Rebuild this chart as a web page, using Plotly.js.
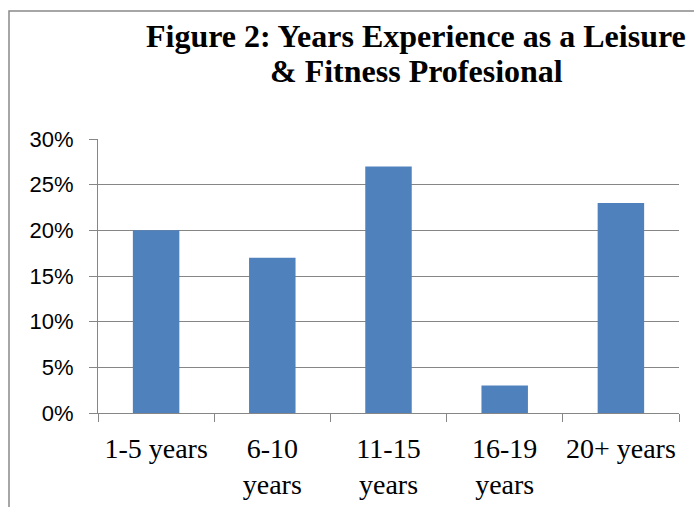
<!DOCTYPE html>
<html>
<head>
<meta charset="utf-8">
<script src="https://cdn.plot.ly/plotly-3.0.1.min.js"></script>
<style>
html,body{margin:0;padding:0;background:#fff;}
#chart{width:694px;height:507px;}
</style>
</head>
<body>
<div id="chart"></div>
<script>
const categories = ["1-5 years", "6-10 years", "11-15 years", "16-19 years", "20+ years"];
const tickLabels = ["1-5 years", "6-10<br>years", "11-15<br>years", "16-19<br>years", "20+ years"];
const values = [0.20, 0.17, 0.27, 0.03, 0.23];
const titleLines = ["Figure 2: Years Experience as a Leisure", "& Fitness Profesional"];

const L = 98, R = 15, T = 139, B = 94;
const W = 694, H = 507;
const pw = W - L - R, ph = H - T - B;
const px = x => (x - L) / pw;
const py = y => 1 + (T - y) / ph;

const trace = {
  type: "bar",
  x: categories,
  y: values,
  marker: {color: "#4F81BD"},
  hoverinfo: "x+y"
};

const layout = {
  width: W, height: H,
  margin: {l: L, r: R, t: T, b: B, pad: 0},
  paper_bgcolor: "#fff",
  plot_bgcolor: "#fff",
  showlegend: false,
  bargap: 0.6,
  xaxis: {
    type: "category",
    tickvals: categories,
    ticktext: tickLabels,
    tickangle: 0,
    tickson: "boundaries",
    ticks: "outside",
    ticklen: 8,
    tickcolor: "#868686",
    showline: true,
    linecolor: "#868686",
    linewidth: 1,
    showgrid: false,
    zeroline: false,
    ticklabelstandoff: 10,
    tickfont: {family: "Liberation Serif", size: 28, color: "#000"}
  },
  yaxis: {
    range: [0, 0.30],
    dtick: 0.05,
    tickformat: ".0%",
    ticks: "outside",
    ticklen: 8,
    tickcolor: "#868686",
    showline: true,
    linecolor: "#868686",
    linewidth: 1,
    showgrid: true,
    gridcolor: "#868686",
    gridwidth: 1,
    zeroline: false,
    ticklabelstandoff: 11,
    tickfont: {family: "Liberation Sans", size: 22, color: "#000"}
  },
  annotations: [
    {text: "<b>" + titleLines[0] + "</b>", xref: "paper", yref: "paper",
     x: px(416), y: py(36), xanchor: "center", yanchor: "middle", showarrow: false,
     font: {family: "Liberation Serif", size: 32, color: "#000"}},
    {text: "<b>" + titleLines[1] + "</b>", xref: "paper", yref: "paper",
     x: px(416), y: py(71), xanchor: "center", yanchor: "middle", showarrow: false,
     font: {family: "Liberation Serif", size: 32, color: "#000"}}
  ],
  shapes: [
    {type: "rect", xref: "paper", yref: "paper",
     x0: px(9), y0: py(560), x1: px(720), y1: py(11),
     line: {color: "#898989", width: 1.5}, fillcolor: "rgba(0,0,0,0)", layer: "below"}
  ]
};

Plotly.newPlot("chart", [trace], layout, {displayModeBar: false, staticPlot: true});
</script>
</body>
</html>
